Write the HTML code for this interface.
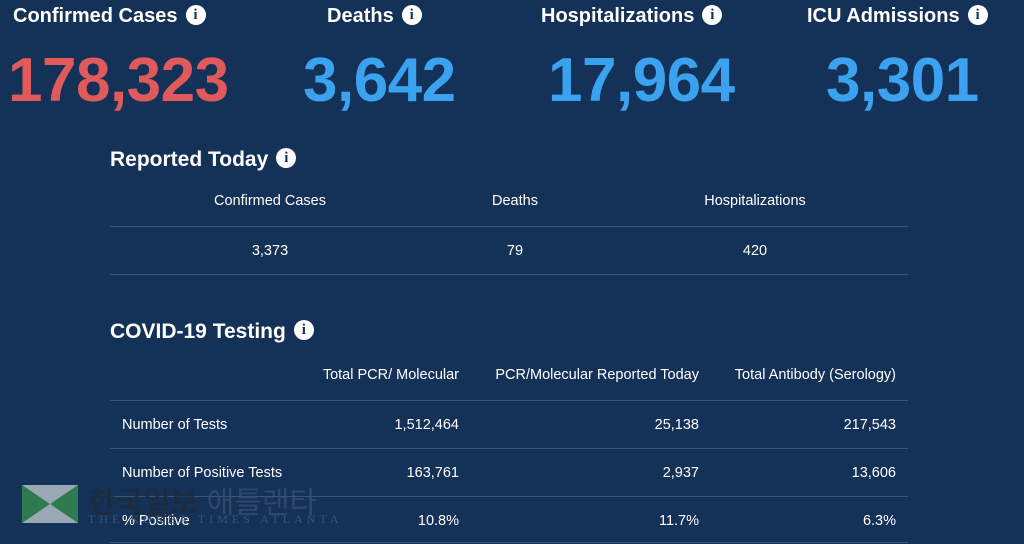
<!DOCTYPE html>
<html><head><meta charset="utf-8"><style>
body{margin:0;width:1024px;height:544px;background:#143158;overflow:hidden;font-family:"Liberation Sans","Noto Sans CJK KR",sans-serif;color:#fff;position:relative}
.a{position:absolute;white-space:nowrap}
.h{font-weight:bold;font-size:20px;top:5px}
.h2{font-weight:bold;font-size:21px}
.n{font-weight:bold;font-size:62px;top:45px;letter-spacing:-0.5px}
.i{display:inline-block;width:20px;height:20px;border-radius:50%;background:#fff;color:#143158;font-size:15px;font-weight:bold;text-align:center;line-height:20px;vertical-align:top;margin-left:8px;font-family:"Liberation Serif",serif}
.s{font-size:14.5px}
.line{position:absolute;left:110px;width:798px;height:1px;background:#3a557a}
.r{text-align:right}
</style></head><body>
<div class="a h" style="left:13px">Confirmed Cases<span class="i">i</span></div>
<div class="a h" style="left:327px">Deaths<span class="i">i</span></div>
<div class="a h" style="left:541px">Hospitalizations<span class="i">i</span></div>
<div class="a h" style="left:807px">ICU Admissions<span class="i">i</span></div>
<div class="a n" style="left:8px;color:#e05a5c">178,323</div>
<div class="a n" style="left:303px;color:#3aa2ee">3,642</div>
<div class="a n" style="left:548px;color:#3aa2ee">17,964</div>
<div class="a n" style="left:826px;color:#3aa2ee">3,301</div>

<div class="a h2" style="left:110px;top:148px">Reported Today<span class="i">i</span></div>
<div class="a s" style="left:170px;width:200px;text-align:center;top:193px">Confirmed Cases</div>
<div class="a s" style="left:415px;width:200px;text-align:center;top:193px">Deaths</div>
<div class="a s" style="left:655px;width:200px;text-align:center;top:193px">Hospitalizations</div>
<div class="line" style="top:226px"></div>
<div class="a s" style="left:170px;width:200px;text-align:center;top:243px">3,373</div>
<div class="a s" style="left:415px;width:200px;text-align:center;top:243px">79</div>
<div class="a s" style="left:655px;width:200px;text-align:center;top:243px">420</div>
<div class="line" style="top:274px"></div>

<div class="a h2" style="left:110px;top:320px">COVID-19 Testing<span class="i">i</span></div>
<div class="a s r" style="right:565px;top:367px">Total PCR/ Molecular</div>
<div class="a s r" style="right:325px;top:367px">PCR/Molecular Reported Today</div>
<div class="a s r" style="right:128px;top:367px">Total Antibody (Serology)</div>
<div class="line" style="top:400px"></div>
<div class="a s" style="left:122px;top:417px">Number of Tests</div>
<div class="a s r" style="right:565px;top:417px">1,512,464</div>
<div class="a s r" style="right:325px;top:417px">25,138</div>
<div class="a s r" style="right:128px;top:417px">217,543</div>
<div class="line" style="top:448px"></div>
<div class="a s" style="left:122px;top:465px">Number of Positive Tests</div>
<div class="a s r" style="right:565px;top:465px">163,761</div>
<div class="a s r" style="right:325px;top:465px">2,937</div>
<div class="a s r" style="right:128px;top:465px">13,606</div>
<div class="line" style="top:496px"></div>
<div class="a s" style="left:122px;top:513px">% Positive</div>
<div class="a s r" style="right:565px;top:513px">10.8%</div>
<div class="a s r" style="right:325px;top:513px">11.7%</div>
<div class="a s r" style="right:128px;top:513px">6.3%</div>
<div class="line" style="top:542px"></div>

<svg class="a" style="left:22px;top:485px" width="56" height="38"><rect width="56" height="38" fill="#9aa7b5"/><polygon points="0,0 28,19 0,38" fill="#2f7a4e"/><polygon points="56,0 28,19 56,38" fill="#2f7a4e"/></svg>
<div class="a" style="left:88px;top:478px;font-size:30px;font-weight:bold;color:#1e2a38;opacity:.7">한국일보<span style="color:#3d5270;font-weight:normal"> 애틀랜타</span></div>
<div class="a" style="left:88px;top:512px;font-size:12px;letter-spacing:4px;color:#3d5270;font-family:'Liberation Serif',serif">THE KOREA TIMES ATLANTA</div>
</body></html>
